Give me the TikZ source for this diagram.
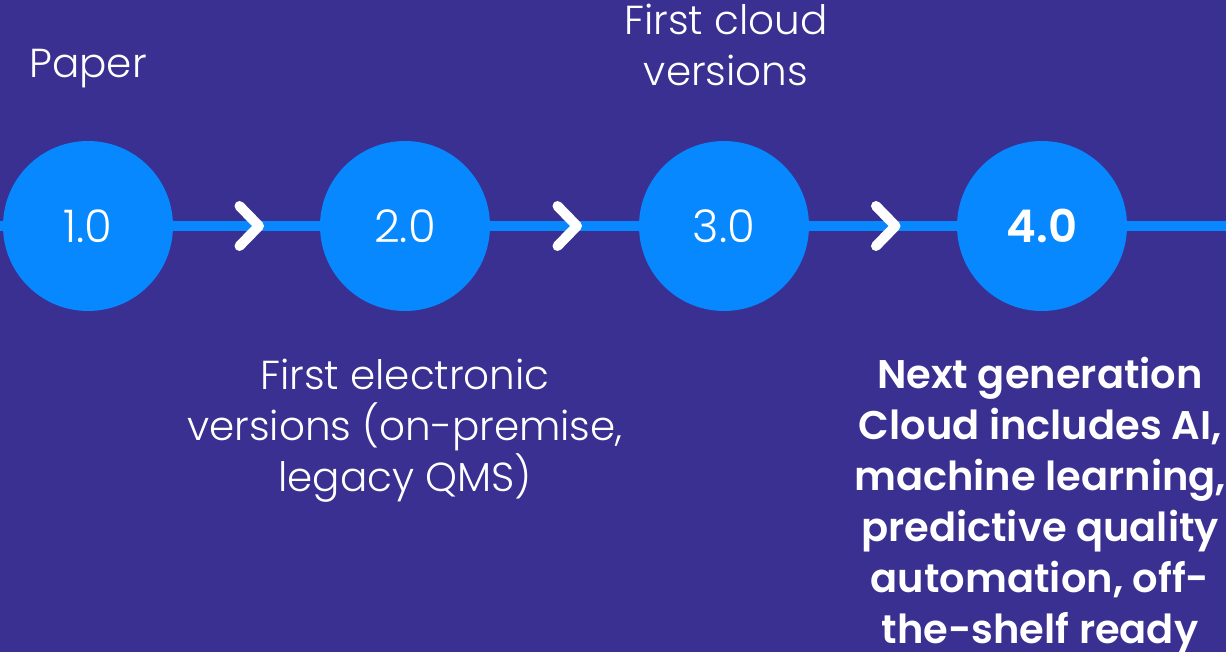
\documentclass[tikz,border=0pt]{standalone}
\usepackage{fontspec}
\setmainfont{Poppins}[UprightFont=* Light, BoldFont=* SemiBold]
\usetikzlibrary{calc}
\pgfdeclarelayer{background}
\pgfsetlayers{background,main}
\definecolor{bg}{HTML}{393092}
\definecolor{cblue}{HTML}{0788FF}
\tikzset{
  stage/.style={circle, fill=cblue, minimum size=170pt, inner sep=0pt, text=white, font=\fontsize{45}{45}\selectfont},
  tline/.style={draw=cblue, line width=9.5pt},
  chev/.style={draw=white, line width=10pt, line cap=round, line join=round},
  lbl/.style={text=white, align=center, inner sep=0pt, anchor=base, font=\fontsize{40.5}{51}\selectfont},
  blbl/.style={lbl, font=\fontsize{40}{51}\selectfont\bfseries}
}
\begin{document}
\begin{tikzpicture}[x=1pt,y=-1pt]
\useasboundingbox (0,0) rectangle (1226,652);
\coordinate (L) at (0,226);
\coordinate (R) at (1226,226);
\node[stage] (c1) at (88,226) {1.0};
\node[stage] (c2) at (405,226) {2.0};
\node[stage] (c3) at (724,226) {3.0};
\node[stage] (c4) at (1042,226) {\bfseries 4.0};
\begin{pgfonlayer}{background}
\fill[bg] (0,0) rectangle (1226,652);
\path[tline] (L) -- (c1.center) (c1.center) -- (c2.center) (c2.center) -- (c3.center) (c3.center) -- (c4.center) (c4.center) -- (R);
\end{pgfonlayer}
\foreach \a/\b in {c1/c2,c2/c3,c3/c4}{
  \draw[chev] ($(\a)!0.5!(\b)+(-7,-20)$) -- ($(\a)!0.5!(\b)+(12.5,0)$) -- ($(\a)!0.5!(\b)+(-7,20)$);
}
\node[lbl] (t1) at (88,78) {Paper};
\node[lbl] (t3) at (726,86) {First cloud\\versions};
\node[lbl] (t2) at (405,491) {First electronic\\versions (on-premise,\\legacy QMS)};
\node[blbl] (t4) at (1040,643) {Next generation\\Cloud includes AI,\\machine learning,\\predictive quality\\automation, off-\\the-shelf ready};
\end{tikzpicture}
\end{document}
